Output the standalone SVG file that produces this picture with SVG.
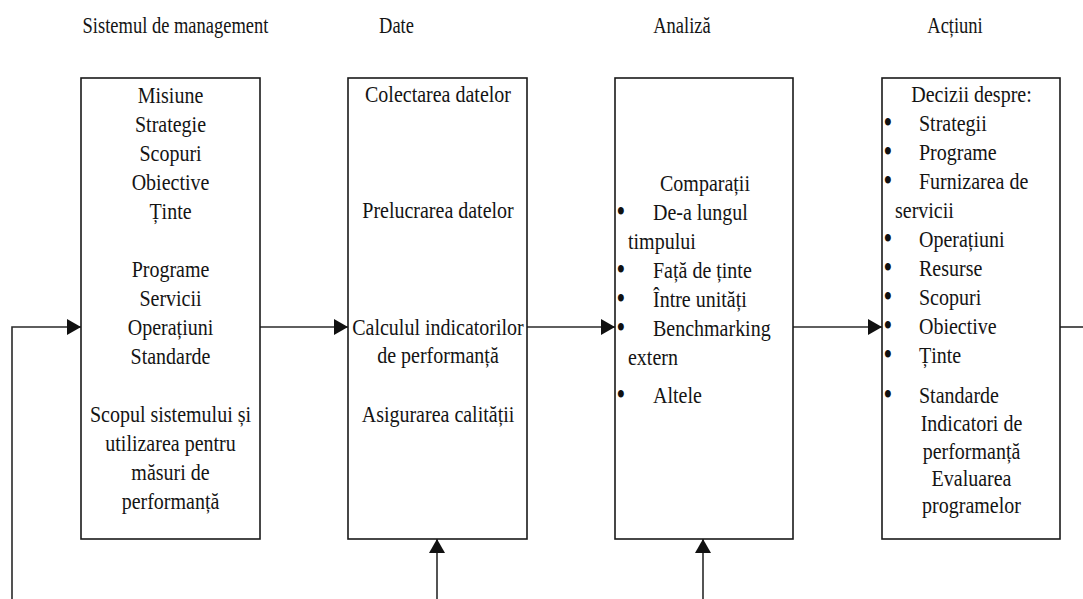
<svg xmlns="http://www.w3.org/2000/svg" width="1083" height="599" viewBox="0 0 1083 599">
<style>
.box{fill:#fff;stroke:#1a1a1a;stroke-width:1.6}
.t{font-family:"Liberation Serif","Times New Roman",serif;font-size:20px;fill:#141414}
.c{text-anchor:middle}
.b{font-size:22px;font-weight:bold;fill:#111}
.h{font-family:"Liberation Serif","Times New Roman",serif;font-size:18.5px;fill:#141414;text-anchor:middle}
.ln{fill:none;stroke:#2a2a2a;stroke-width:1.6}
</style>
<defs>
<marker id="ah" markerUnits="userSpaceOnUse" markerWidth="15" markerHeight="16" refX="14" refY="8" orient="auto">
<path d="M0,0 L14,8 L0,16 z" fill="#111"/>
</marker>
</defs>
<rect width="1083" height="599" fill="#fff"/>

<g id="titles">
<text class="h" transform="translate(175.5 33) scale(1 1.2)">Sistemul de management</text>
<text class="h" transform="translate(396.5 33) scale(1 1.2)">Date</text>
<text class="h" transform="translate(682 33) scale(1 1.2)">Analiză</text>
<text class="h" transform="translate(955 33) scale(1 1.2)">Acțiuni</text>
</g>

<g id="connectors">
<path class="ln" d="M12,599 V327 H81" marker-end="url(#ah)"/>
<path class="ln" d="M260,327 H348" marker-end="url(#ah)"/>
<path class="ln" d="M527,327 H615" marker-end="url(#ah)"/>
<path class="ln" d="M793,327 H882" marker-end="url(#ah)"/>
<path class="ln" d="M1060,327 H1083"/>
<path class="ln" d="M437,599 V539" marker-end="url(#ah)"/>
<path class="ln" d="M703,599 V539" marker-end="url(#ah)"/>
</g>

<g id="node-management">
<rect class="box" x="81" y="78" width="179" height="461"/>
<text class="t c" transform="translate(170.5 103) scale(1 1.2)">Misiune</text>
<text class="t c" transform="translate(170.5 132) scale(1 1.2)">Strategie</text>
<text class="t c" transform="translate(170.5 161) scale(1 1.2)">Scopuri</text>
<text class="t c" transform="translate(170.5 190) scale(1 1.2)">Obiective</text>
<text class="t c" transform="translate(170.5 219) scale(1 1.2)">Ținte</text>
<text class="t c" transform="translate(170.5 277) scale(1 1.2)">Programe</text>
<text class="t c" transform="translate(170.5 306) scale(1 1.2)">Servicii</text>
<text class="t c" transform="translate(170.5 335) scale(1 1.2)">Operațiuni</text>
<text class="t c" transform="translate(170.5 364) scale(1 1.2)">Standarde</text>
<text class="t c" transform="translate(170.5 422) scale(1 1.2)">Scopul sistemului și</text>
<text class="t c" transform="translate(170.5 451) scale(1 1.2)">utilizarea pentru</text>
<text class="t c" transform="translate(170.5 480) scale(1 1.2)">măsuri de</text>
<text class="t c" transform="translate(170.5 509) scale(1 1.2)">performanță</text>
</g>

<g id="node-date">
<rect class="box" x="348" y="78" width="179" height="461"/>
<text class="t c" transform="translate(438 102) scale(1 1.2)">Colectarea datelor</text>
<text class="t c" transform="translate(438 218) scale(1 1.2)">Prelucrarea datelor</text>
<text class="t c" transform="translate(438 335) scale(1 1.2)">Calculul indicatorilor</text>
<text class="t c" transform="translate(438 363) scale(1 1.2)">de performanță</text>
<text class="t c" transform="translate(438 422) scale(1 1.2)">Asigurarea calității</text>
</g>

<g id="node-analiza">
<rect class="box" x="615" y="78" width="178" height="461"/>
<text class="t c" transform="translate(705 191) scale(1 1.2)">Comparații</text>
<text class="t" transform="translate(617 220) scale(1 1.2)"><tspan class="b">•</tspan><tspan x="36">De-a lungul</tspan></text>
<text class="t" transform="translate(628 249) scale(1 1.2)">timpului</text>
<text class="t" transform="translate(617 278) scale(1 1.2)"><tspan class="b">•</tspan><tspan x="36">Față de ținte</tspan></text>
<text class="t" transform="translate(617 307) scale(1 1.2)"><tspan class="b">•</tspan><tspan x="36">Între unități</tspan></text>
<text class="t" transform="translate(617 336) scale(1 1.2)"><tspan class="b">•</tspan><tspan x="36">Benchmarking</tspan></text>
<text class="t" transform="translate(628 365) scale(1 1.2)">extern</text>
<text class="t" transform="translate(617 403) scale(1 1.2)"><tspan class="b">•</tspan><tspan x="36">Altele</tspan></text>
</g>

<g id="node-actiuni">
<rect class="box" x="882" y="78" width="178" height="461"/>
<text class="t c" transform="translate(971.5 102) scale(1 1.2)">Decizii despre:</text>
<text class="t" transform="translate(884 131) scale(1 1.2)"><tspan class="b">•</tspan><tspan x="35">Strategii</tspan></text>
<text class="t" transform="translate(884 160) scale(1 1.2)"><tspan class="b">•</tspan><tspan x="35">Programe</tspan></text>
<text class="t" transform="translate(884 189) scale(1 1.2)"><tspan class="b">•</tspan><tspan x="35">Furnizarea de</tspan></text>
<text class="t" transform="translate(895 218) scale(1 1.2)">servicii</text>
<text class="t" transform="translate(884 247) scale(1 1.2)"><tspan class="b">•</tspan><tspan x="35">Operațiuni</tspan></text>
<text class="t" transform="translate(884 276) scale(1 1.2)"><tspan class="b">•</tspan><tspan x="35">Resurse</tspan></text>
<text class="t" transform="translate(884 305) scale(1 1.2)"><tspan class="b">•</tspan><tspan x="35">Scopuri</tspan></text>
<text class="t" transform="translate(884 334) scale(1 1.2)"><tspan class="b">•</tspan><tspan x="35">Obiective</tspan></text>
<text class="t" transform="translate(884 363) scale(1 1.2)"><tspan class="b">•</tspan><tspan x="35">Ținte</tspan></text>
<text class="t" transform="translate(884 403) scale(1 1.2)"><tspan class="b">•</tspan><tspan x="35">Standarde</tspan></text>
<text class="t c" transform="translate(971.5 431) scale(1 1.2)">Indicatori de</text>
<text class="t c" transform="translate(971.5 459) scale(1 1.2)">performanță</text>
<text class="t c" transform="translate(971.5 486) scale(1 1.2)">Evaluarea</text>
<text class="t c" transform="translate(971.5 513) scale(1 1.2)">programelor</text>
</g>
</svg>
